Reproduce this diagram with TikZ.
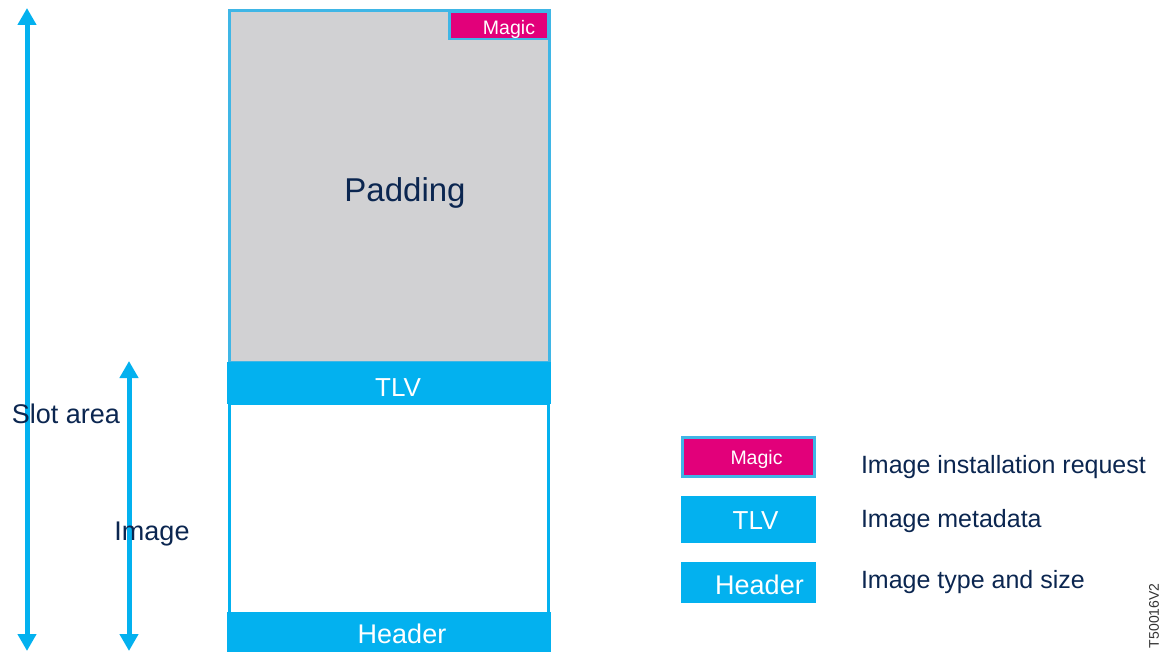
\documentclass[tikz,border=0pt]{standalone}
\usepackage{fontspec}
\setmainfont{Liberation Sans}
\usetikzlibrary{arrows.meta}
\definecolor{stblue}{HTML}{03B1EF}
\definecolor{edgeblue}{HTML}{3FB6E6}
\definecolor{padgray}{HTML}{D1D1D3}
\definecolor{magicpink}{HTML}{E2007A}
\definecolor{navy}{HTML}{0B2650}
\newcommand{\fs}[1]{\fontsize{#1}{#1}\selectfont}
\newcommand{\lowr}[2]{\raisebox{-#1pt}[\height][\depth]{#2}}
\tikzset{
  every node/.style={outer sep=0pt},
  dimarrow/.style={line width=5pt, stblue, {Triangle[width=18pt,length=17pt]}-{Triangle[width=18pt,length=17pt]}},
  band/.style={fill=stblue, draw=none, text=white, inner sep=0pt, anchor=north west},
  lbl/.style={text=navy, inner sep=0pt},
  legtext/.style={text=navy, inner sep=0pt, anchor=west, font=\fs{25}},
}
\begin{document}
\begin{tikzpicture}[x=1pt,y=-1pt]
\useasboundingbox (0,0) rectangle (1162,652);
% slot area arrow
\coordinate (sa-top) at (27,8);
\coordinate (sa-bot) at (27,651);
\draw[dimarrow] (sa-bot) -- (sa-top);
\coordinate (im-top) at (129,361);
\coordinate (im-bot) at (129,651);
\draw[dimarrow] (im-bot) -- (im-top);
\node[lbl, font=\fs{27}] (slotlbl) at (66,414) {Slot area};
\node[lbl, font=\fs{27}] (imglbl) at (152,534) {Image};
% padding area
\node[draw=edgeblue, line width=3pt, fill=padgray, minimum width=320pt, minimum height=352pt, anchor=north west, inner sep=0pt] (pad) at (229.5,10.5) {};
\node[lbl, font=\fs{33}] (padtxt) at (405,193) {Padding};
\node[draw=edgeblue, line width=2.5pt, fill=magicpink, minimum width=99pt, minimum height=27pt, anchor=north east, inner sep=0pt, text=white, font=\fs{19.5}] (magic) at (548.5,12) {\hspace*{20pt}\lowr{4}{Magic}};
% white image body
\node[draw=stblue, line width=3pt, fill=white, minimum width=319pt, minimum height=210pt, anchor=north west, inner sep=0pt] (body) at (229.5,403) {};
% TLV band
\node[band, minimum width=324pt, minimum height=42pt, font=\fs{26}] (tlv) at (227,362) {\hspace*{18pt}\lowr{5}{TLV}};
% Header band
\node[band, minimum width=324pt, minimum height=41pt, font=\fs{27}] (hdr) at (227,612) {\hspace*{26pt}\lowr{1}{Header}};
% legend
\node[draw=edgeblue, line width=2.5pt, fill=magicpink, minimum width=132pt, minimum height=39pt, anchor=north west, inner sep=0pt, text=white, font=\fs{19.5}] (lmagic) at (682.5,437.5) {\hspace*{16pt}\lowr{2}{Magic}};
\node[band, minimum width=135pt, minimum height=47pt, font=\fs{26}] (ltlv) at (681,496) {\hspace*{14pt}\lowr{1}{TLV}};
\node[band, minimum width=135pt, minimum height=41pt, font=\fs{27}] (lhdr) at (681,562) {\hspace*{22pt}\lowr{2}{Header}};
\node[legtext] (t1) at (861,467) {Image installation request};
\node[legtext] (t2) at (861,521) {Image metadata};
\node[legtext] (t3) at (861,582) {Image type and size};
\node[rotate=90, anchor=south west, inner sep=0pt, font=\fs{14}, text=black!80] (code) at (1159,648) {T50016V2};
\end{tikzpicture}
\end{document}
